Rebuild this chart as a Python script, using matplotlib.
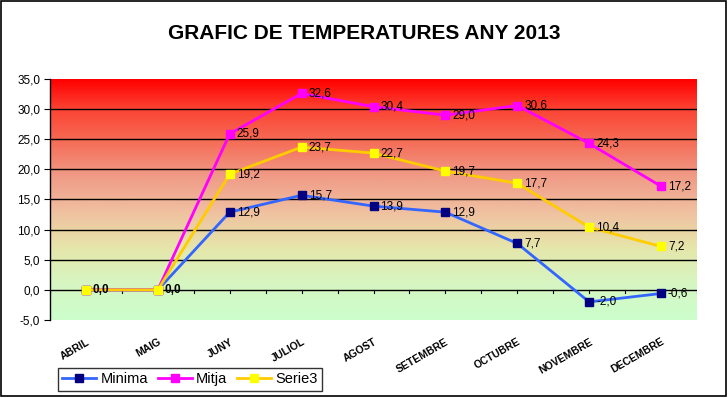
import numpy as np
import matplotlib.pyplot as plt
from matplotlib.colors import LinearSegmentedColormap
from matplotlib.lines import Line2D
from matplotlib.patches import Rectangle

plt.rcParams['font.family'] = ['Liberation Sans', 'DejaVu Sans']

months = ['ABRIL', 'MAIG', 'JUNY', 'JULIOL', 'AGOST', 'SETEMBRE', 'OCTUBRE', 'NOVEMBRE', 'DECEMBRE']
minima = [0.0, 0.0, 12.9, 15.7, 13.9, 12.9, 7.7, -2.0, -0.6]
mitja = [0.0, 0.0, 25.9, 32.6, 30.4, 29.0, 30.6, 24.3, 17.2]
serie3 = [0.0, 0.0, 19.2, 23.7, 22.7, 19.7, 17.7, 10.4, 7.2]

fig = plt.figure(figsize=(7.28, 3.98), dpi=100)
fig.patches.append(Rectangle((0.001, 0.004), 0.996, 0.993, transform=fig.transFigure,
                             fill=False, edgecolor='black', linewidth=1.2))
ax = fig.add_axes([0.0687, 0.196, 0.8887, 0.6055])

# background gradient (bottom -> top)
grad = LinearSegmentedColormap.from_list('bg', [
    (0.0, '#ccffcc'), (0.15, '#d6f6c2'), (0.3, '#e6e6aa'), (0.45, '#f0c0a0'),
    (0.6, '#f09a86'), (0.75, '#f66a54'), (0.875, '#fc4434'), (1.0, '#ff0000')])
x = np.arange(len(months))
ax.imshow(np.linspace(0, 1, 256).reshape(-1, 1), aspect='auto', cmap=grad,
          extent=(-0.5, 8.5, -5, 35), origin='lower', zorder=0)

for yv in range(0, 35, 5):
    ax.axhline(yv, color='black', linewidth=1, zorder=1)

ms = 6
ax.plot(x, minima, color='#3366ff', linewidth=2, marker='s', markersize=ms,
        markerfacecolor='#000080', markeredgecolor='#000080', zorder=3)
ax.plot(x, mitja, color='#ff00ff', linewidth=2, marker='s', markersize=ms,
        markerfacecolor='#ff00ff', markeredgecolor='#ff00ff', zorder=3)
ax.plot(x, serie3, color='#ffcc00', linewidth=2, marker='s', markersize=ms,
        markerfacecolor='#ffff00', markeredgecolor='#ffff00', zorder=4)

def fmt(v):
    return f'{v:.1f}'.replace('.', ',')

for series in (minima, mitja, serie3):
    for i, v in enumerate(series):
        if v == 0:
            continue
        ax.annotate(fmt(v), (i, v), xytext=(5, 0), textcoords='offset points',
                    ha='left', va='center', fontsize=8.5, zorder=5)
for i, v in enumerate(serie3[:2]):
    ax.annotate(fmt(v), (i, v), xytext=(5, 0), textcoords='offset points',
                ha='left', va='center', fontsize=8.5, fontweight='bold', zorder=5)

# small category ticks on the zero line
for t in np.arange(-0.5, 9.0, 0.5):
    ax.plot([t, t], [0, -0.6], color='black', linewidth=0.8, zorder=2)

ax.set_xlim(-0.5, 8.5)
ax.set_ylim(-5, 35)
ax.set_yticks(range(-5, 40, 5))
ax.set_yticklabels([fmt(v) for v in range(-5, 40, 5)], fontsize=8.5)
ax.tick_params(axis='y', length=4, width=0.8, pad=3)
ax.set_xticks(x)
ax.set_xticklabels(months, rotation=30, ha='right', va='top', fontsize=7.5,
                   fontweight='bold', rotation_mode='anchor')
ax.tick_params(axis='x', length=0, pad=12)
for s in ('top', 'right', 'bottom'):
    ax.spines[s].set_visible(False)
ax.spines['left'].set_linewidth(1)

fig.text(0.5, 0.915, 'GRAFIC DE TEMPERATURES ANY 2013', ha='center', va='center',
         fontsize=15, fontweight='bold')

handles = [
    Line2D([], [], color='#3366ff', linewidth=2, marker='s', markersize=ms,
           markerfacecolor='#000080', markeredgecolor='#000080'),
    Line2D([], [], color='#ff00ff', linewidth=2, marker='s', markersize=ms,
           markerfacecolor='#ff00ff', markeredgecolor='#ff00ff'),
    Line2D([], [], color='#ffcc00', linewidth=2, marker='s', markersize=ms,
           markerfacecolor='#ffff00', markeredgecolor='#ffff00'),
]
fig.legend(handles, ['Minima', 'Mitja', 'Serie3'], loc='center',
           bbox_to_anchor=(0.261, 0.047), ncol=3, fontsize=10.5, frameon=True,
           fancybox=False, edgecolor='black', handlelength=2.3, handletextpad=0.3,
           columnspacing=0.7, borderpad=0.3)

fig.savefig('out.png', dpi=100)
